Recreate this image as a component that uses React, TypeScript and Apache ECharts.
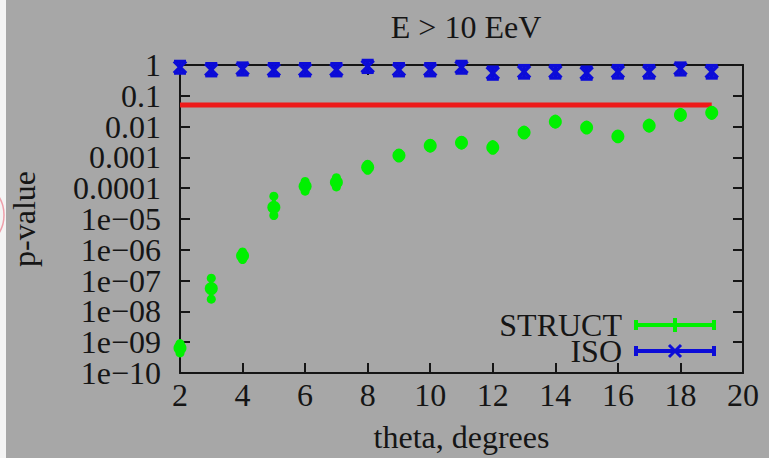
import React, { useEffect, useRef } from "react";
import * as echarts from "echarts";

// Separation angle (degrees)
const theta = [2, 3, 4, 5, 6, 7, 8, 9, 10, 11, 12, 13, 14, 15, 16, 17, 18, 19];

// STRUCT p-values with lower / upper error limits
const structP = [6.5e-10, 5.5e-8, 6.4e-7, 2.4e-5, 1.15e-4, 1.55e-4, 4.8e-4, 1.15e-3, 2.4e-3, 3.0e-3, 2.1e-3, 6.4e-3, 1.45e-2, 9.3e-3, 4.8e-3, 1.07e-2, 2.4e-2, 2.8e-2];
const structLo = [4.5e-10, 2.5e-8, 4.8e-7, 1.3e-5, 8.0e-5, 1.1e-4, 3.8e-4, 9.5e-4, 2.0e-3, 2.5e-3, 1.7e-3, 5.3e-3, 1.2e-2, 7.7e-3, 4.0e-3, 8.9e-3, 2.0e-2, 2.3e-2];
const structHi = [9.0e-10, 1.2e-7, 8.5e-7, 5.5e-5, 1.65e-4, 2.2e-4, 6.0e-4, 1.4e-3, 2.9e-3, 3.6e-3, 2.6e-3, 7.7e-3, 1.75e-2, 1.12e-2, 5.8e-3, 1.3e-2, 2.9e-2, 3.4e-2];

// ISO p-values with lower / upper error limits
const isoP = [0.85, 0.7, 0.75, 0.7, 0.7, 0.7, 0.9, 0.7, 0.7, 0.85, 0.55, 0.6, 0.6, 0.55, 0.6, 0.6, 0.75, 0.6];
const isoLo = [0.55, 0.45, 0.48, 0.45, 0.45, 0.45, 0.58, 0.45, 0.45, 0.55, 0.35, 0.38, 0.38, 0.35, 0.38, 0.38, 0.48, 0.38];
const isoHi = [1.3, 1.1, 1.15, 1.1, 1.1, 1.1, 1.4, 1.1, 1.1, 1.3, 0.85, 0.95, 0.95, 0.85, 0.95, 0.95, 1.15, 0.95];

// Significance threshold drawn across the scanned range
const thresholdP = 0.05;
const thresholdTheta = [2, 19];

const xTicks = [2, 4, 6, 8, 10, 12, 14, 16, 18, 20];
const yTickValues = [1, 0.1, 0.01, 1e-3, 1e-4, 1e-5, 1e-6, 1e-7, 1e-8, 1e-9, 1e-10];
const yTickLabels = ["1", "0.1", "0.01", "0.001", "0.0001", "1e\u221205", "1e\u221206", "1e\u221207", "1e\u221208", "1e\u221209", "1e\u221210"];

const seriesNames = ["STRUCT", "ISO"];
const titleText = "E > 10 EeV";
const xName = "theta, degrees";
const yName = "p-value";

const GREEN = "#00f000";
const BLUE = "#0c0cd8";
const RED = "#ee1a1a";
const BG = "#a7a7a7";
const INK = "#151515";
const FONT = "'Liberation Serif', 'Times New Roman', serif";
const FS = 32;

export default function App() {
  const ref = useRef<HTMLDivElement>(null);

  useEffect(() => {
    if (!ref.current) return;
    const chart = echarts.init(ref.current, undefined, { renderer: "svg" });

    const structData = theta.map((t, i) => [t, structP[i], structLo[i], structHi[i]]);
    const isoData = theta.map((t, i) => [t, isoP[i], isoLo[i], isoHi[i]]);

    const structItem = (params: any, api: any) => {
      const x = api.value(0);
      const c = api.coord([x, api.value(1)]);
      const lo = api.coord([x, api.value(2)]);
      const hi = api.coord([x, api.value(3)]);
      const st = { stroke: GREEN, lineWidth: 4, fill: null };
      return {
        type: "group",
        children: [
          { type: "line", shape: { x1: c[0], y1: hi[1], x2: c[0], y2: lo[1] }, style: st },
          { type: "circle", shape: { cx: c[0], cy: hi[1], r: 4.5 }, style: { fill: GREEN } },
          { type: "circle", shape: { cx: c[0], cy: lo[1], r: 4.5 }, style: { fill: GREEN } },
          { type: "circle", shape: { cx: c[0], cy: c[1], r: 6.5 }, style: { fill: GREEN } },
        ],
      };
    };

    const isoItem = (params: any, api: any) => {
      const x = api.value(0);
      const c = api.coord([x, api.value(1)]);
      const lo = api.coord([x, api.value(2)]);
      const hi = api.coord([x, api.value(3)]);
      const cap = 6;
      const a = 6;
      const st = { stroke: BLUE, lineWidth: 3.5, fill: null };
      return {
        type: "group",
        children: [
          { type: "line", shape: { x1: c[0], y1: hi[1], x2: c[0], y2: lo[1] }, style: st },
          { type: "line", shape: { x1: c[0] - cap, y1: hi[1], x2: c[0] + cap, y2: hi[1] }, style: st },
          { type: "line", shape: { x1: c[0] - cap, y1: lo[1], x2: c[0] + cap, y2: lo[1] }, style: st },
          { type: "line", shape: { x1: c[0] - a, y1: c[1] - a, x2: c[0] + a, y2: c[1] + a }, style: st },
          { type: "line", shape: { x1: c[0] - a, y1: c[1] + a, x2: c[0] + a, y2: c[1] - a }, style: st },
        ],
      };
    };

    const axisLine = { lineStyle: { color: INK, width: 2 } };
    const tick = { inside: true, length: 10, lineStyle: { color: INK, width: 2 } };
    const label = { color: INK, fontFamily: FONT, fontSize: FS };

    // legend samples: line with end caps and the series marker at the middle
    const legendY = [325, 351];
    const lx1 = 636, lx2 = 714, lmid = 675;
    const legendGraphics: any[] = [];
    seriesNames.forEach((name, i) => {
      const y = legendY[i];
      const color = i === 0 ? GREEN : BLUE;
      const st = { stroke: color, lineWidth: 4 };
      legendGraphics.push(
        { type: "text", x: 622, y, style: { text: name, fill: INK, font: `${FS}px ${FONT}`, align: "right", verticalAlign: "middle" } },
        { type: "line", shape: { x1: lx1, y1: y, x2: lx2, y2: y }, style: st },
        { type: "line", shape: { x1: lx1, y1: y - 5, x2: lx1, y2: y + 5 }, style: st },
        { type: "line", shape: { x1: lx2, y1: y - 5, x2: lx2, y2: y + 5 }, style: st }
      );
      if (i === 0) {
        legendGraphics.push({ type: "line", shape: { x1: lmid, y1: y - 7, x2: lmid, y2: y + 7 }, style: st });
      } else {
        legendGraphics.push(
          { type: "line", shape: { x1: lmid - 6, y1: y - 6, x2: lmid + 6, y2: y + 6 }, style: { stroke: color, lineWidth: 3 } },
          { type: "line", shape: { x1: lmid - 6, y1: y + 6, x2: lmid + 6, y2: y - 6 }, style: { stroke: color, lineWidth: 3 } }
        );
      }
    });

    const logAxisBase = {
      type: "log",
      logBase: 10,
      min: 1e-10,
      max: 1,
      interval: 1,
      splitLine: { show: false },
      minorTick: { show: false },
    };

    const yLabelFmt = (v: number) => yTickLabels[Math.round(-Math.log10(v))] ?? "";
    // decade labels split over two stacked left axes so that the densely packed
    // labels are all kept (alternate decades on each)
    const evenDecades = yTickValues.filter((_, i) => i % 2 === 0);
    const oddDecades = yTickValues.filter((_, i) => i % 2 === 1);

    chart.setOption({
      animation: false,
      backgroundColor: BG,
      title: {
        text: titleText,
        left: 461,
        top: 6,
        textAlign: "center",
        textStyle: { color: INK, fontFamily: FONT, fontSize: FS, fontWeight: "normal" },
      },
      grid: { left: 180, right: 26, top: 65, bottom: 83 },
      xAxis: [
        {
          type: "value",
          min: 2,
          max: 20,
          interval: 2,
          name: xName,
          nameLocation: "middle",
          nameGap: 48,
          nameTextStyle: { color: INK, fontFamily: FONT, fontSize: FS },
          axisLine,
          axisTick: tick,
          axisLabel: { ...label, margin: 6, showMinLabel: true, showMaxLabel: true, formatter: (v: number) => (xTicks.includes(v) ? String(v) : "") },
          splitLine: { show: false },
        },
        {
          type: "value",
          position: "top",
          min: 2,
          max: 20,
          interval: 2,
          axisLine,
          axisTick: tick,
          axisLabel: { show: false },
          splitLine: { show: false },
        },
      ],
      yAxis: [
        {
          ...logAxisBase,
          position: "left",
          name: yName,
          nameLocation: "middle",
          nameRotate: 90,
          nameGap: 140,
          nameTextStyle: { color: INK, fontFamily: FONT, fontSize: FS },
          axisLine,
          axisTick: { ...tick, customValues: evenDecades },
          axisLabel: {
            ...label,
            margin: 19,
            showMinLabel: true,
            showMaxLabel: true,
            customValues: evenDecades,
            formatter: yLabelFmt,
          },
        },
        {
          ...logAxisBase,
          position: "right",
          axisLine,
          axisTick: { ...tick, customValues: yTickValues },
          axisLabel: { show: false },
        },
        {
          ...logAxisBase,
          position: "left",
          offset: 0,
          axisLine: { show: false },
          axisTick: { ...tick, customValues: oddDecades },
          axisLabel: {
            ...label,
            margin: 19,
            customValues: oddDecades,
            formatter: yLabelFmt,
          },
        },
      ],
      graphic: [
        { type: "rect", shape: { x: 0, y: 0, width: 6, height: 458 }, style: { fill: "#f4f4f4" } },
        { type: "arc", shape: { cx: -30, cy: 215, r: 34, startAngle: -0.9, endAngle: 0.9 }, style: { stroke: "rgba(235,90,110,0.55)", lineWidth: 1.5, fill: null } },
        ...legendGraphics,
      ],
      series: [
        {
          type: "line",
          data: thresholdTheta.map((t) => [t, thresholdP]),
          symbol: "none",
          lineStyle: { color: RED, width: 5 },
          z: 2,
        },
        {
          type: "custom",
          name: seriesNames[0],
          data: structData,
          encode: { x: 0, y: 1 },
          renderItem: structItem,
          z: 3,
        },
        {
          type: "custom",
          name: seriesNames[1],
          data: isoData,
          encode: { x: 0, y: 1 },
          renderItem: isoItem,
          z: 4,
        },
      ],
    });

    return () => chart.dispose();
  }, []);

  return <div ref={ref} style={{ position: "fixed", left: 0, top: 0, width: 769, height: 458 }} />;
}
